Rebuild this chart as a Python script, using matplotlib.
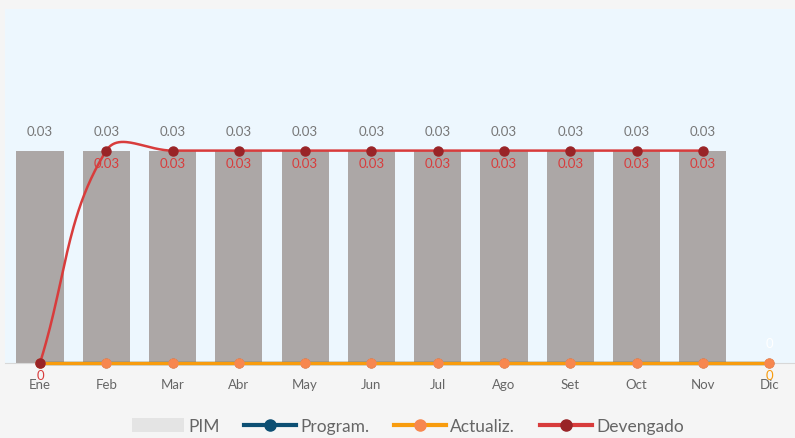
import numpy as np
import matplotlib
matplotlib.use("Agg")
import matplotlib.pyplot as plt
from matplotlib.lines import Line2D
from matplotlib.patches import Patch

plt.rcParams['font.family'] = ['Lato', 'DejaVu Sans']

months = ["Ene", "Feb", "Mar", "Abr", "May", "Jun", "Jul", "Ago", "Set", "Oct", "Nov", "Dic"]
pim = [0.03, 0.03, 0.03, 0.03, 0.03, 0.03, 0.03, 0.03, 0.03, 0.03, 0.03, 0]
program = [0, 0, 0, 0, 0, 0, 0, 0, 0, 0, 0, 0]
actualiz = [0, 0, 0, 0, 0, 0, 0, 0, 0, 0, 0, 0]
devengado = [0, 0.03, 0.03, 0.03, 0.03, 0.03, 0.03, 0.03, 0.03, 0.03, 0.03, np.nan]

BG = "#f5f5f5"
PLOT_BG = "#edf7fe"
BAR = "#aca7a6"
C_PROG = "#0d4f73"
C_ACT = "#f89c0e"
C_ACT_M = "#f7874f"
C_DEV = "#d83c3c"
C_DEV_M = "#992427"


def smooth_path(ax, xs, ys, tension=0.4, n=50):
    """Tension spline (control points scaled by neighbour distances in screen space)."""
    pts = ax.transData.transform(np.column_stack([xs, ys]))
    m = len(pts)
    prev_cp, next_cp = [], []
    for i in range(m):
        cur = pts[i]
        prv = pts[i - 1] if i > 0 else cur
        nxt = pts[i + 1] if i < m - 1 else cur
        d01 = np.hypot(*(cur - prv))
        d12 = np.hypot(*(nxt - cur))
        tot = d01 + d12
        s01 = d01 / tot if tot else 0.0
        s12 = d12 / tot if tot else 0.0
        prev_cp.append(cur - tension * s01 * (nxt - prv))
        next_cp.append(cur + tension * s12 * (nxt - prv))
    out = []
    t = np.linspace(0, 1, n)[:, None]
    for i in range(m - 1):
        p0, c1, c2, p1 = pts[i], next_cp[i], prev_cp[i + 1], pts[i + 1]
        b = ((1 - t) ** 3) * p0 + 3 * ((1 - t) ** 2) * t * c1 + 3 * (1 - t) * t ** 2 * c2 + t ** 3 * p1
        out.append(b)
    out = np.vstack(out)
    data = ax.transData.inverted().transform(out)
    return data[:, 0], data[:, 1]


fig = plt.figure(figsize=(7.95, 4.39), dpi=100, facecolor=BG)
ax = fig.add_axes([5 / 795, 75 / 439, 790 / 795, 354 / 439])
ax.set_facecolor(PLOT_BG)
ax.set_xlim(-0.528, 11.39)
ax.set_ylim(0, 0.05)

x = np.arange(len(months))
ax.bar(x, pim, width=0.71, color=BAR, zorder=2)

# Program. and Actualiz. lines along zero
ax.plot(x, program, color=C_PROG, lw=2.4, marker='o', ms=6, mfc=C_PROG, mec=C_PROG,
        zorder=3, clip_on=False)
ax.plot(x, actualiz, color=C_ACT, lw=2.4, zorder=4, clip_on=False)
ax.plot(x, actualiz, ls='none', marker='o', ms=6.5, mfc=C_ACT_M, mec=C_ACT_M,
        zorder=4, clip_on=False)

# Devengado smooth line
dv = np.array(devengado, float)
ok = ~np.isnan(dv)
sx, sy = smooth_path(ax, x[ok], dv[ok])
ax.plot(sx, sy, color=C_DEV, lw=1.8, zorder=5, solid_capstyle='round', clip_on=False)
ax.plot(x[ok], dv[ok], ls='none', marker='o', ms=6.5, mfc=C_DEV_M, mec=C_DEV_M,
        zorder=6, clip_on=False)

ax.set_yticks([])
ax.set_xticks(x)
ax.set_xticklabels(months, color="#666666", fontsize=9.5)
ax.tick_params(axis='x', length=0, pad=11)
for s in ['top', 'right', 'left']:
    ax.spines[s].set_visible(False)
ax.spines['bottom'].set_color('#d8d8d8')


def fmt(v):
    return "0" if v == 0 else f"{v:.2f}"


# PIM value labels
for xi, v in zip(x, pim):
    col = "#777777" if v > 0 else "white"
    ax.annotate(fmt(v), (xi, v), xytext=(0, 20), textcoords='offset pixels',
                ha='center', va='center', fontsize=9.5, color=col, zorder=7)

# Devengado value labels
for xi, v in zip(x, devengado):
    if np.isnan(v):
        continue
    ax.annotate(fmt(v), (xi, v), xytext=(0, -12), textcoords='offset pixels',
                ha='center', va='center', fontsize=9.5, color=C_DEV, zorder=7,
                annotation_clip=False)

# Actualiz. label at the last month
ax.annotate(fmt(actualiz[-1]), (x[-1], actualiz[-1]), xytext=(0, -12), textcoords='offset pixels',
            ha='center', va='center', fontsize=9.5, color=C_ACT, zorder=7, annotation_clip=False)

handles = [
    Patch(facecolor="#e4e4e4", edgecolor="none"),
    Line2D([0], [0], color=C_PROG, lw=3, marker='o', ms=8, mfc=C_PROG, mec=C_PROG),
    Line2D([0], [0], color=C_ACT, lw=3, marker='o', ms=8, mfc=C_ACT_M, mec=C_ACT_M),
    Line2D([0], [0], color=C_DEV, lw=3, marker='o', ms=8, mfc=C_DEV_M, mec=C_DEV_M),
]
fig.legend(handles, ["PIM", "Program.", "Actualiz.", "Devengado"], loc='center',
           bbox_to_anchor=(0.513, 12 / 439), ncol=4, frameon=False, fontsize=12.5,
           labelcolor="#666666", handlelength=3.0, handleheight=0.8, handletextpad=0.25,
           columnspacing=1.4)

fig.savefig("out.png", dpi=100, facecolor=BG)
